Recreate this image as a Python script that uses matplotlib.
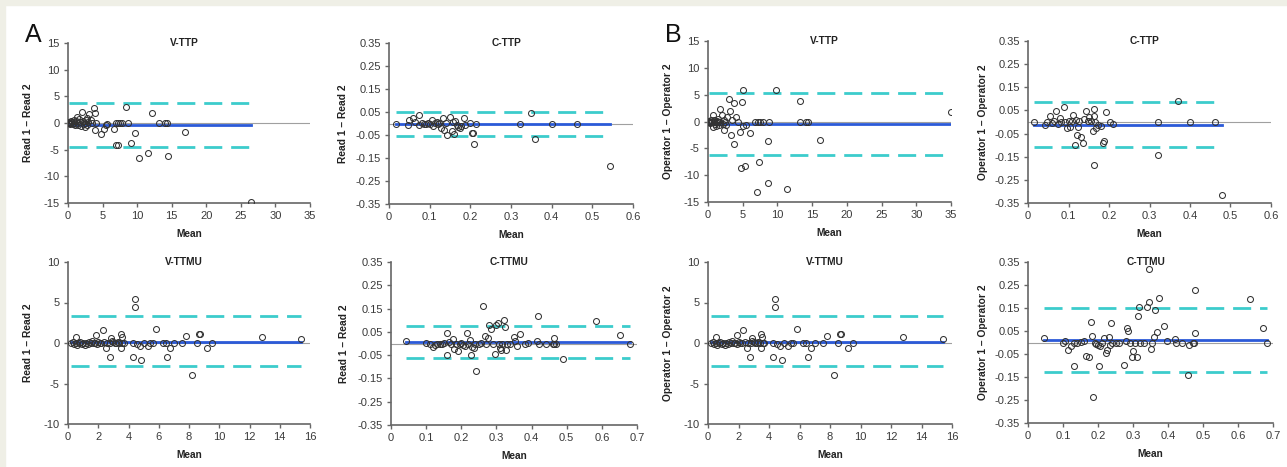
import numpy as np
import matplotlib
matplotlib.use("Agg")
import matplotlib.pyplot as plt
from matplotlib.patches import Rectangle

plt.rcParams['font.family'] = ['Liberation Sans', 'DejaVu Sans']
plt.rcParams['axes.unicode_minus'] = False

# --- Data (Bland-Altman: mean vs difference) ---
# A: intra-observer (Read 1 - Read 2), V-TTP
a_vttp_x = [0.1, 0.2, 0.3, 0.4, 0.5, 0.6, 0.7, 0.8, 0.9, 1.0, 1.1, 1.3, 1.4, 1.5, 1.6,
            1.8, 1.9, 2.0, 2.2, 2.3, 2.4, 2.5, 2.6, 2.7, 2.8, 2.9, 3.0, 3.3, 3.5,
            3.7, 3.9, 3.85, 4.1, 4.8, 5.2, 5.5, 5.7, 6.6, 6.9, 7.2, 7.5, 7.8, 8.4,
            8.7, 7.0, 7.3, 9.1, 9.7, 10.3, 11.6, 12.2, 13.2, 14.1, 14.3, 14.4, 16.9, 26.5]
a_vttp_y = [0.1, 0.0, -0.1, 0.3, 0.0, 0.2, -0.2, 0.5, 0.0, -0.4, 0.3, 1.2, 0.0, -0.3, 0.8,
            0.2, -0.5, 2.1, 0.4, -0.2, 0.0, -0.7, 0.6, 1.0, -0.3, 0.2, 1.6, 0.5, 0.0,
            2.9, 1.9, -1.3, 0.0, -2.1, -1.1, -0.4, -0.2, -1.1, 0, 0, 0, 0, 3.0,
            0, -4.2, -4.2, -3.7, -1.8, -6.6, -5.7, 1.9, 0, 0, 0, -6.2, -1.7, -14.9]
a_vttp_lines = [-0.4, 3.7, -4.5]   # bias, upper LoA, lower LoA

# A: C-TTP
a_cttp_x = [0.017, 0.046, 0.05, 0.058, 0.065, 0.074, 0.074, 0.08, 0.085, 0.09,
            0.095, 0.1, 0.105, 0.109, 0.113, 0.117, 0.12, 0.124, 0.129, 0.133,
            0.135, 0.14, 0.143, 0.15, 0.154, 0.158, 0.16, 0.162, 0.166, 0.17,
            0.174, 0.178, 0.184, 0.187, 0.2, 0.205, 0.206, 0.21, 0.213, 0.322,
            0.348, 0.359, 0.4, 0.462, 0.543]
a_cttp_y = [0, -0.007, 0.017, 0.026, 0.005, 0.036, -0.005, 0.002, 0, -0.003,
            0.003, 0, 0.017, -0.012, 0.004, 0.007, -0.004, 0.002, -0.02, 0.026,
            -0.029, 0.004, -0.05, 0.029, -0.032, 0.008, -0.046, 0.012, -0.008, -0.014,
            -0.018, -0.01, 0.022, -0.007, 0.003, -0.04, -0.043, -0.091, -0.003, 0,
            0.046, -0.069, 0, 0, -0.185]
a_cttp_lines = [-0.003, 0.05, -0.055]

# B: inter-observer (Operator 1 - Operator 2), V-TTP
b_vttp_x = [0.1, 0.2, 0.3, 0.4, 0.5, 0.6, 0.7, 0.7, 0.8, 0.9, 1.0, 1.1, 1.2, 1.3, 1.4,
            1.5, 1.6, 1.7, 1.8, 2.0, 2.1, 2.3, 2.3, 2.5, 2.6, 2.8, 3.0, 3.2, 3.3, 3.5,
            3.7, 3.8, 4.0, 4.3, 4.6, 4.8, 4.85, 5.1, 5.3, 5.1, 5.5, 6.0, 6.8, 7.2, 7.5,
            7.9, 7.0, 7.3, 8.6, 8.6, 8.8, 9.8, 11.4, 13.2, 13.2, 14.1, 14.4, 16.1, 35.0]
b_vttp_y = [0, 0.1, -0.2, 0, 0.3, -0.1, 1.2, -1.1, 0, 0.2, -0.4, 0, -0.8, 0.1, 0,
            0.5, -0.6, 0, 2.3, 1.2, -0.5, -1.5, 0.3, 0, -0.7, 0.9, 4.2, 1.9, -2.5, 0.2,
            -4.2, 3.4, 0.8, 0, -2.0, -8.6, 3.7, 5.8, -8.2, -0.8, -0.6, -2.2, 0, 0, 0,
            0, -13.1, -7.6, -3.7, -11.5, 0, 5.9, -12.5, 3.9, 0, 0, 0, -3.5, 1.7]
b_vttp_lines = [-0.5, 5.4, -6.3]

# B: C-TTP
b_cttp_x = [0.016, 0.041, 0.048, 0.055, 0.06, 0.065, 0.07, 0.074, 0.078, 0.082,
            0.088, 0.092, 0.096, 0.1, 0.104, 0.108, 0.111, 0.115, 0.118, 0.12,
            0.123, 0.127, 0.132, 0.136, 0.139, 0.144, 0.148, 0.151, 0.156, 0.161,
            0.163, 0.164, 0.163, 0.166, 0.169, 0.174, 0.181, 0.184, 0.187, 0.192,
            0.202, 0.21, 0.321, 0.321, 0.371, 0.4, 0.462, 0.478]
b_cttp_y = [0, -0.013, 0.002, 0.027, -0.005, 0.003, 0.046, -0.01, 0.017, 0.002,
            0.066, 0, -0.026, 0.003, -0.02, 0.005, 0.032, -0.098, 0.01, -0.055,
            -0.02, 0.004, -0.065, -0.091, 0.012, 0.046, 0.003, 0.022, 0.005, -0.04,
            0.056, 0.024, -0.187, 0.002, -0.026, -0.015, -0.019, -0.09, -0.082, 0.042,
            0.001, -0.007, 0, -0.141, 0.089, 0, 0, -0.315]
b_cttp_lines = [-0.011, 0.088, -0.108]

# V-TTMU (same points in A and B)
vttmu_x = [0.2, 0.3, 0.4, 0.5, 0.55, 0.6, 0.7, 0.8, 0.9, 1.0, 1.1, 1.2, 1.3, 1.4, 1.5,
           1.6, 1.7, 1.8, 1.87, 1.9, 2.0, 2.1, 2.2, 2.31, 2.4, 2.53, 2.6, 2.75, 2.8, 2.86,
           2.9, 3.0, 3.1, 3.2, 3.3, 3.4, 3.5, 3.5, 3.54, 3.6, 3.7, 4.29, 4.29, 4.4, 4.42,
           4.55, 4.73, 4.82, 5.0, 5.26, 5.44, 5.6, 5.83, 6.25, 6.45, 6.54, 6.76, 7.0,
           7.57, 7.79, 8.23, 8.52, 8.63, 8.74, 9.18, 9.5, 12.8, 15.4]
vttmu_y = [0, 0.1, -0.1, 0, 0.7, -0.2, 0, 0.1, -0.1, 0, -0.3, 0, -0.1, 0.1, 0,
           0.2, 0, 0, 0.97, -0.1, 0.1, 0, 0, 1.6, 0.1, -0.56, 0, -1.7, 0, 0.56,
           0.2, 0.1, 0, 0, 0.1, 0, 1.05, -0.56, 0.8, 0, 0, -1.67, 0, 5.46, 4.39,
           -0.16, -0.35, -2.16, 0, -0.4, 0, 0, 1.71, 0, 0, -1.71, -0.56, 0,
           0, 0.89, -3.98, 0, 1.09, 1.05, -0.56, 0, 0.8, 0.47]
vttmu_lines = [0.15, 3.3, -2.85]

# A: C-TTMU
a_cttmu_x = [0.042, 0.1, 0.11, 0.12, 0.125, 0.13, 0.14, 0.145, 0.15, 0.159,
             0.159, 0.165, 0.17, 0.176, 0.18, 0.185, 0.19, 0.195, 0.2, 0.205,
             0.21, 0.216, 0.22, 0.224, 0.228, 0.23, 0.235, 0.24, 0.242, 0.25,
             0.255, 0.263, 0.268, 0.27, 0.276, 0.279, 0.284, 0.29, 0.295, 0.298,
             0.304, 0.308, 0.31, 0.312, 0.315, 0.322, 0.325, 0.327, 0.33, 0.34,
             0.35, 0.352, 0.358, 0.367, 0.38, 0.39, 0.415, 0.418, 0.422, 0.44,
             0.46, 0.463, 0.465, 0.47, 0.489, 0.584, 0.653, 0.679]
a_cttmu_y = [0.012, 0.004, 0, -0.014, -0.008, 0, 0, -0.003, 0.002, 0.047,
             -0.05, 0.005, 0, 0.018, -0.025, 0, -0.031, 0, 0.003, -0.007,
             -0.01, 0.044, 0, 0.015, -0.05, -0.014, -0.02, 0, -0.117, 0,
             0.002, 0.162, 0.032, 0, 0.025, 0.08, 0.061, 0, -0.045, 0.08,
             0.09, 0, -0.02, -0.028, 0, 0.101, 0.073, -0.028, 0, 0,
             0.027, 0.01, -0.011, 0.04, 0, 0.003, 0.011, 0.116, 0, 0,
             0, 0.025, 0, 0, -0.068, 0.097, 0.037, 0]
a_cttmu_lines = [0.006, 0.077, -0.062]

# B: C-TTMU
b_cttmu_x = [0.047, 0.1, 0.105, 0.114, 0.122, 0.13, 0.132, 0.14, 0.15, 0.16,
             0.165, 0.175, 0.18, 0.183, 0.185, 0.19, 0.195, 0.2, 0.204, 0.207,
             0.21, 0.217, 0.223, 0.226, 0.232, 0.235, 0.237, 0.24, 0.25, 0.26,
             0.273, 0.28, 0.282, 0.285, 0.29, 0.296, 0.301, 0.305, 0.311, 0.313,
             0.317, 0.32, 0.33, 0.339, 0.346, 0.347, 0.351, 0.355, 0.36, 0.363,
             0.368, 0.373, 0.388, 0.396, 0.42, 0.422, 0.44, 0.458, 0.46, 0.47,
             0.473, 0.477, 0.477, 0.634, 0.671, 0.683]
b_cttmu_y = [0.02, 0, 0.005, -0.031, -0.016, 0, -0.102, 0, 0.003, 0.005,
             -0.06, -0.065, 0.09, 0.027, -0.238, 0, -0.005, -0.012, -0.102, -0.015,
             0, 0.02, -0.045, -0.031, 0.023, -0.012, 0.083, 0, 0, 0,
             -0.096, 0.005, 0.064, 0.049, 0, -0.065, -0.038, 0, -0.065, 0.117,
             0.155, 0, 0, 0.153, 0.175, 0.318, -0.028, 0, 0.023, 0.143,
             0.046, 0.194, 0.071, 0.008, 0.017, 0, 0, -0.143, -0.012, 0,
             0, 0.041, 0.229, 0.187, 0.063, 0]
b_cttmu_lines = [0.013, 0.152, -0.128]

read_label = "Read 1 \u2013 Read 2"
oper_label = "Operator 1 \u2013 Operator 2"

# axis ranges: (xmax, xstep, ymax, ystep)
vttp_axis = (35, 5, 15, 5)
cttp_axis = (0.6, 0.1, 0.35, 0.1)
vttmu_axis = (16, 2, 10, 5)
cttmu_axis = (0.7, 0.1, 0.35, 0.1)

# --- Figure ---
W, H = 1287, 467
fig = plt.figure(figsize=(W / 100, H / 100), dpi=100)
fig.patches.append(Rectangle((0, 1 - 5 / H), 1, 5 / H, transform=fig.transFigure,
                             color='#efefe6', zorder=0))
fig.patches.append(Rectangle((0, 0), 5 / W, 1, transform=fig.transFigure,
                             color='#efefe6', zorder=0))

BLUE = '#2b5ad8'
CYAN = '#3ccccc'


def px_axes(left, right, top, bottom):
    return fig.add_axes([left / W, 1 - bottom / H, (right - left) / W, (bottom - top) / H])


def draw(ax, x, y, lines, title, ylabel, axis, ylab_x):
    x = np.asarray(x)
    y = np.asarray(y)
    xmax, xstep, ymax, ystep = axis
    bias, upper, lower = lines
    x0, x1 = x.min(), x.max()
    ax.plot([0, xmax], [0, 0], color='#a0a0a0', lw=0.8, zorder=1)
    ax.plot([x0, x1], [bias, bias], color=BLUE, lw=2.0, zorder=2)
    for lv in (upper, lower):
        ax.plot([x0, x1], [lv, lv], color=CYAN, lw=2.0, dashes=(6.5, 3.2), zorder=2)
    ax.plot(x, y, 'o', ms=4.3, mfc='none', mec='#333333', mew=0.75, zorder=3)
    ax.set_xlim(0, xmax)
    ax.set_ylim(-ymax, ymax)
    xt = np.arange(0, xmax + xstep / 2, xstep)
    yt = np.arange(-ymax, ymax + ystep / 2, ystep)
    ax.set_xticks(xt)
    ax.set_xticklabels(['%g' % round(v, 2) for v in xt])
    ax.set_yticks(yt)
    ax.set_yticklabels(['%g' % round(v, 2) for v in yt])
    for s in ('top', 'right'):
        ax.spines[s].set_visible(False)
    for s in ('left', 'bottom'):
        ax.spines[s].set_color('#666666')
        ax.spines[s].set_linewidth(1.2)
    ax.tick_params(direction='out', length=3, width=1, color='#666666',
                   labelsize=8, labelcolor='#3a3a3a', pad=3)
    ax.text(0.48, 1.0, title, transform=ax.transAxes, ha='center', va='center',
            fontsize=7.3, fontweight='bold', color='#222222')
    ax.set_ylabel(ylabel, fontsize=7.4, fontweight='bold', color='#222222')
    ax.yaxis.set_label_coords(ylab_x, 0.5)
    ax.set_xlabel('Mean', fontsize=7.3, fontweight='bold', color='#222222')
    ax.xaxis.set_label_coords(0.5, -0.16)
    ax.patch.set_alpha(0)


ax = px_axes(68, 310, 43, 203)
draw(ax, a_vttp_x, a_vttp_y, a_vttp_lines, 'V-TTP', read_label, vttp_axis, -0.145)
ax = px_axes(389, 633, 43, 204)
draw(ax, a_cttp_x, a_cttp_y, a_cttp_lines, 'C-TTP', read_label, cttp_axis, -0.17)
ax = px_axes(708, 951, 41, 202)
draw(ax, b_vttp_x, b_vttp_y, b_vttp_lines, 'V-TTP', oper_label, vttp_axis, -0.145)
ax = px_axes(1028, 1271, 41, 203)
draw(ax, b_cttp_x, b_cttp_y, b_cttp_lines, 'C-TTP', oper_label, cttp_axis, -0.165)

ax = px_axes(68, 310, 262, 424)
draw(ax, vttmu_x, vttmu_y, vttmu_lines, 'V-TTMU', read_label, vttmu_axis, -0.145)
ax = px_axes(391, 637, 262, 425)
draw(ax, a_cttmu_x, a_cttmu_y, a_cttmu_lines, 'C-TTMU', read_label, cttmu_axis, -0.17)
ax = px_axes(708, 952, 262, 424)
draw(ax, vttmu_x, vttmu_y, vttmu_lines, 'V-TTMU', oper_label, vttmu_axis, -0.145)
ax = px_axes(1028, 1273, 262, 423)
draw(ax, b_cttmu_x, b_cttmu_y, b_cttmu_lines, 'C-TTMU', oper_label, cttmu_axis, -0.165)

fig.text(25 / W, 1 - 42 / H, 'A', fontsize=18, color='#111111', ha='left', va='baseline')
fig.text(665 / W, 1 - 42 / H, 'B', fontsize=18, color='#111111', ha='left', va='baseline')

fig.savefig('out.png', dpi=100, facecolor='white')
